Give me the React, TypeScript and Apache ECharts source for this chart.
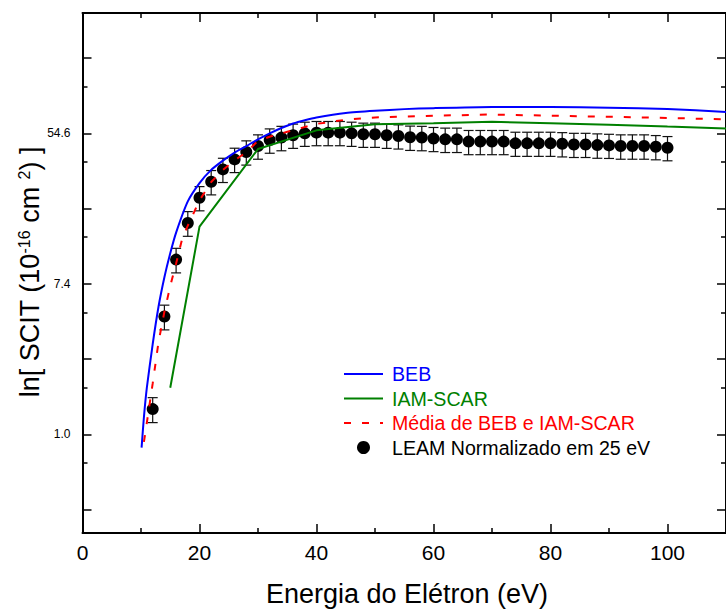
import React, { useEffect, useRef } from 'react';
import * as echarts from 'echarts';

// ---------- data (values in 10^-16 cm^2) ----------
const leamX = [12, 14, 16, 18, 20, 22, 24, 26, 28, 30, 32, 34, 36, 38, 40, 42, 44, 46, 48, 50, 52, 54, 56, 58, 60, 62, 64, 66, 68, 70, 72, 74, 76, 78, 80, 82, 84, 86, 88, 90, 92, 94, 96, 98, 100];
const leamY = [1.40, 4.79, 10.2, 16.6, 23.2, 28.7, 33.8, 38.6, 42.6, 46.1, 49.9, 51.6, 53.2, 54.6, 55.1, 55.1, 55.1, 54.6, 53.9, 53.9, 53.2, 52.7, 51.8, 51.6, 50.9, 50.4, 50.4, 48.9, 48.9, 48.9, 48.9, 47.8, 47.8, 47.8, 47.8, 47.5, 47.1, 47.1, 46.7, 46.5, 46.1, 46.1, 46.1, 45.7, 45.1];
const leamErr = [0.23, 0.78, 1.65, 2.7, 3.7, 4.6, 5.4, 6.2, 6.8, 7.4, 8.0, 8.3, 8.5, 8.7, 8.8, 8.8, 8.8, 8.7, 8.6, 8.6, 8.5, 8.4, 8.3, 8.3, 8.1, 8.1, 8.1, 7.8, 7.8, 7.8, 7.8, 7.6, 7.6, 7.6, 7.6, 7.6, 7.5, 7.5, 7.5, 7.4, 7.4, 7.4, 7.4, 7.3, 7.2];

const bebX = [10.1, 10.5, 11, 12, 13, 14, 15, 16, 18, 20, 22, 24, 26, 28, 30, 32, 34, 36, 38, 40, 45, 50, 55, 60, 70, 80, 90, 100, 110];
const bebY = [0.84, 1.26, 1.86, 3.32, 5.47, 8.07, 11.1, 14.6, 22.1, 28.2, 33.6, 38.0, 42.3, 46.1, 50.4, 54.6, 58.6, 62.2, 65.0, 67.4, 71.5, 73.7, 75.3, 76.3, 77.5, 77.4, 76.7, 75.4, 72.5];

const iamX = [15, 20, 30, 40, 50, 60, 70, 80, 90, 100, 110];
const iamY = [1.86, 15.8, 44.3, 56.8, 61.6, 62.5, 63.6, 62.5, 61.2, 59.7, 58.3];

const avgX = [10.5, 11, 12, 13, 14, 15, 16, 17, 18, 20, 22, 24, 26, 28, 30, 32, 35, 40, 45, 50, 60, 70, 80, 90, 100, 110];
const avgY = [0.905, 1.17, 1.97, 3.42, 5.1, 7.17, 9.68, 13.3, 16.0, 22.4, 28.6, 33.6, 38.1, 42.5, 49.4, 52.2, 55.7, 61.9, 65.4, 67.4, 69.0, 70.1, 69.0, 68.0, 67.0, 65.7];

const xMajorTicks = [0, 20, 40, 60, 80, 100];
const xMinorTicks = [10, 30, 50, 70, 90];
const xMin = 0;
const xMax = 110;

const yMin = 0.27;
const yMax = 270;
const yMajorTicks = [0.3679, 1, 2.7183, 7.3891, 20.0855, 54.5982, 148.4132];
const yMinorTicks = [0.684, 1.859, 5.054, 13.737, 37.342, 101.506];
const yLabelValues = [1, 7.3891, 54.5982];
const yLabelTexts = ['1.0', '7.4', '54.6'];

const names = ['BEB', 'IAM-SCAR', 'Média de BEB e IAM-SCAR', 'LEAM Normalizado em 25 eV'];
const colors = ['#0000ff', '#008000', '#ff0000', '#000000'];

const FONT = '"Liberation Sans", Arial, Helvetica, sans-serif';
const ln = Math.log;

export default function App() {
  const ref = useRef<HTMLDivElement>(null);

  useEffect(() => {
    const chart = echarts.init(ref.current!, null, { renderer: 'svg' });

    const tickStyle = { color: '#000', width: 1.5 };
    const lineStyleAx = { color: '#000', width: 2 };

    const xBase = (position: string, major: boolean, withLine: boolean, withLabel: boolean) => ({
      type: 'value',
      gridIndex: 0,
      position,
      min: xMin,
      max: xMax,
      splitLine: { show: false },
      axisLine: { show: withLine, onZero: false, lineStyle: lineStyleAx },
      axisTick: {
        show: true,
        inside: true,
        length: major ? 9 : 5,
        lineStyle: tickStyle,
        customValues: major ? xMajorTicks : xMinorTicks,
      },
      axisLabel: withLabel
        ? {
            show: true,
            customValues: xMajorTicks,
            color: '#000',
            fontSize: 21,
            fontFamily: FONT,
            margin: 9,
          }
        : { show: false },
    });

    const yBase = (position: string, major: boolean, withLine: boolean, withLabel: boolean) => ({
      type: 'value',
      gridIndex: 0,
      position,
      min: ln(yMin),
      max: ln(yMax),
      splitLine: { show: false },
      axisLine: { show: withLine, onZero: false, lineStyle: lineStyleAx },
      axisTick: {
        show: true,
        inside: true,
        length: major ? 9 : 5,
        lineStyle: tickStyle,
        customValues: (major ? yMajorTicks : yMinorTicks).map(ln),
      },
      axisLabel: withLabel
        ? {
            show: true,
            customValues: yLabelValues.map(ln),
            formatter: (v: number) => {
              let best = 0;
              let d = Infinity;
              yLabelValues.forEach((lv, i) => {
                const dd = Math.abs(ln(lv) - v);
                if (dd < d) { d = dd; best = i; }
              });
              return yLabelTexts[best];
            },
            color: '#000',
            fontSize: 12,
            fontFamily: FONT,
            margin: 12,
          }
        : { show: false },
    });

    const lineSeries = (i: number, xs: number[], ys: number[], dashed: boolean, smooth: number | boolean) => ({
      type: 'line',
      name: names[i],
      xAxisIndex: 0,
      yAxisIndex: 0,
      data: xs.map((x, k) => [x, ln(ys[k])]),
      symbol: 'none',
      showSymbol: false,
      smooth,
      z: 4,
      lineStyle: {
        color: colors[i],
        width: 2,
        type: dashed ? [7, 11] : 'solid',
      },
      itemStyle: { color: colors[i] },
    });

    chart.setOption({
      animation: false,
      backgroundColor: '#fff',
      grid: { left: 82.5, top: 13, width: 649, height: 520, containLabel: false },
      xAxis: [
        xBase('bottom', true, true, true),
        xBase('bottom', false, false, false),
        xBase('top', true, true, false),
        xBase('top', false, false, false),
      ],
      yAxis: [
        yBase('left', true, true, true),
        yBase('left', false, false, false),
        yBase('right', true, true, false),
        yBase('right', false, false, false),
      ],
      legend: {
        orient: 'vertical',
        left: 343,
        top: 364,
        padding: 0,
        itemWidth: 39,
        itemHeight: 13,
        itemGap: 4.5,
        selectedMode: false,
        textStyle: { fontSize: 19.6, fontFamily: FONT, lineHeight: 20, padding: [0, 0, 0, 4] },
        data: names.map((n, i) =>
          i < 3
            ? { name: n, textStyle: { color: colors[i] }, itemStyle: { opacity: 0 } }
            : { name: n, textStyle: { color: colors[i] }, itemStyle: { color: '#000', opacity: 1 } }
        ),
      },
      series: [
        {
          type: 'custom',
          name: 'err',
          xAxisIndex: 0,
          yAxisIndex: 0,
          z: 2,
          silent: true,
          data: leamX.map((x, i) => [x, ln(leamY[i] - leamErr[i]), ln(leamY[i] + leamErr[i])]),
          encode: { x: 0, y: [1, 2] },
          renderItem: (params: any, api: any) => {
            const x = api.value(0);
            const lo = api.coord([x, api.value(1)]);
            const hi = api.coord([x, api.value(2)]);
            const w = 5;
            const style = { stroke: '#111', lineWidth: 1.2 };
            return {
              type: 'group',
              children: [
                { type: 'line', shape: { x1: lo[0], y1: lo[1], x2: hi[0], y2: hi[1] }, style },
                { type: 'line', shape: { x1: lo[0] - w, y1: lo[1], x2: lo[0] + w, y2: lo[1] }, style },
                { type: 'line', shape: { x1: hi[0] - w, y1: hi[1], x2: hi[0] + w, y2: hi[1] }, style },
              ],
            };
          },
        },
        {
          type: 'scatter',
          name: names[3],
          xAxisIndex: 0,
          yAxisIndex: 0,
          z: 3,
          symbol: 'circle',
          symbolSize: 12,
          itemStyle: { color: '#000', opacity: 1 },
          data: leamX.map((x, i) => [x, ln(leamY[i])]),
        },
        lineSeries(0, bebX, bebY, false, 0.2),
        lineSeries(1, iamX, iamY, false, false),
        lineSeries(2, avgX, avgY, true, false),
      ],
      graphic: [
        {
          type: 'text',
          x: 30,
          y: 272,
          rotation: Math.PI / 2,
          style: {
            text: '{m|ln[ SCIT (10}{s|-16}{m| cm }{s|2}{m|) ]}',
            align: 'center',
            verticalAlign: 'middle',
            fill: '#000',
            rich: {
              m: { fontSize: 27, fontFamily: FONT, fill: '#000', verticalAlign: 'bottom' },
              s: { fontSize: 16, fontFamily: FONT, fill: '#000', verticalAlign: 'top' },
            },
          },
        },
        {
          type: 'text',
          x: 407,
          y: 594,
          style: {
            text: 'Energia do Elétron (eV)',
            align: 'center',
            verticalAlign: 'middle',
            fontSize: 27,
            lineHeight: 27,
            fontFamily: FONT,
            fill: '#000',
          },
        },
      ],
    });

    return () => chart.dispose();
  }, []);

  return (
    <div
      ref={ref}
      style={{ position: 'absolute', left: 0, top: 0, width: 726, height: 609 }}
    />
  );
}
